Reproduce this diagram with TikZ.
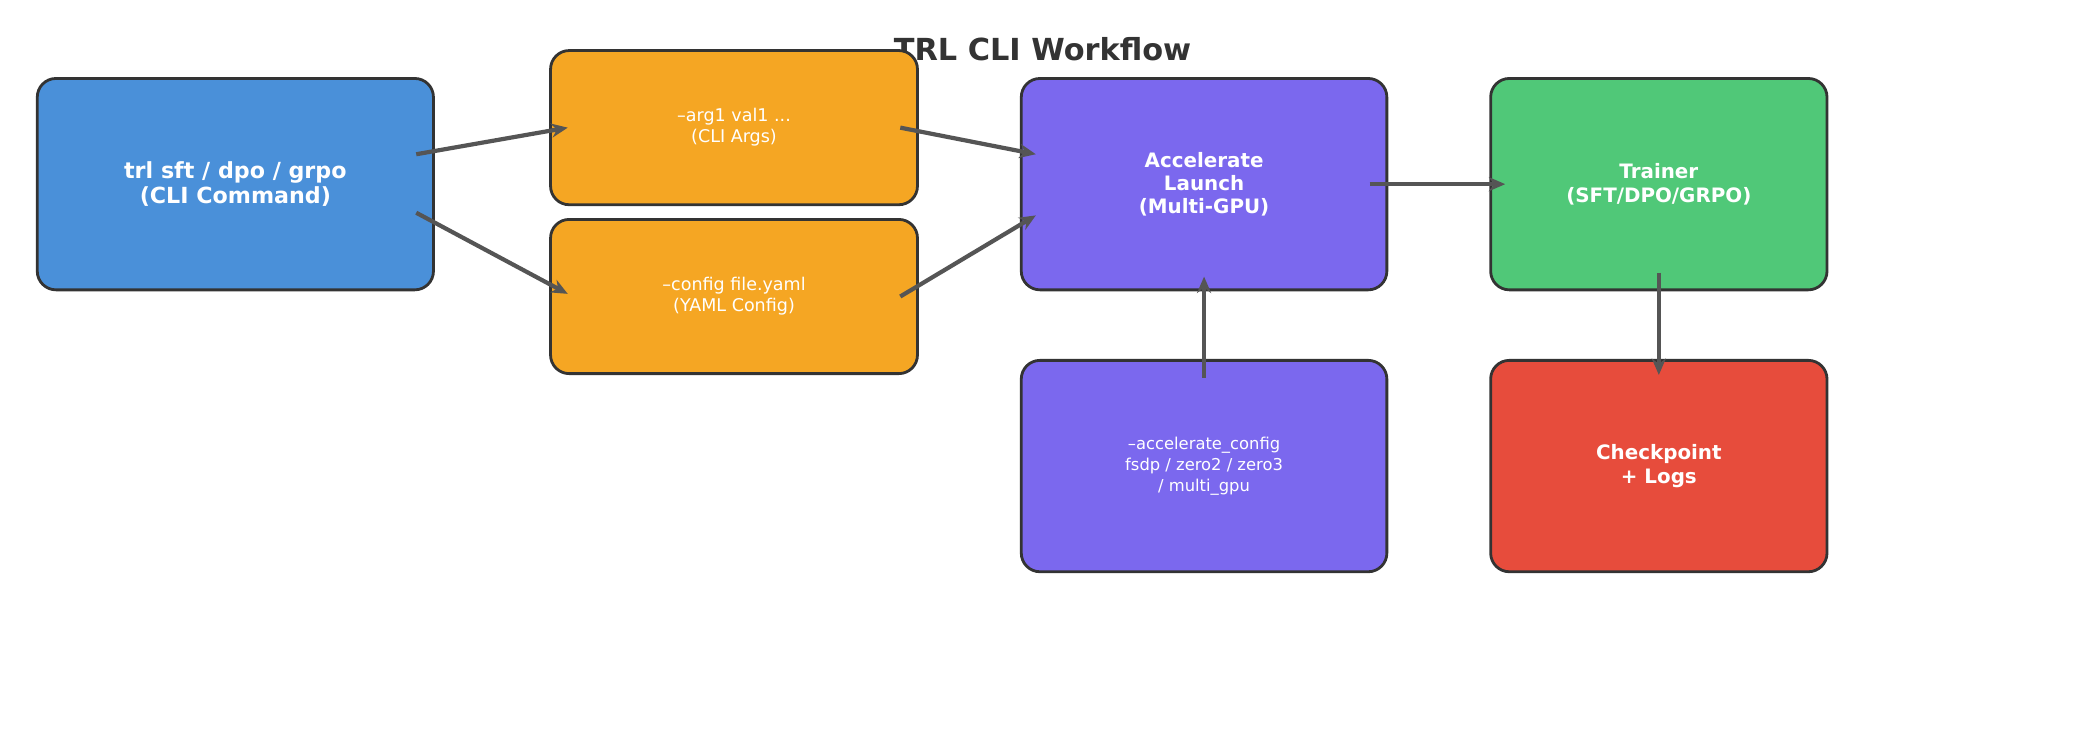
\documentclass[tikz,border=0pt]{standalone}
\usepackage{fontspec}
\setmainfont{DejaVu Sans}
\usetikzlibrary{arrows.meta}
\definecolor{cliblue}{HTML}{4A90D9}
\definecolor{argorange}{HTML}{F5A623}
\definecolor{accpurple}{HTML}{7B68EE}
\definecolor{trgreen}{HTML}{50C878}
\definecolor{ckred}{HTML}{E74C3C}
\definecolor{edgegray}{HTML}{333333}
\definecolor{arrowgray}{HTML}{555555}
\tikzset{
  box/.style={draw=edgegray, line width=1.2pt, rounded corners=8pt, text=white, align=center, inner sep=0pt},
  flow/.style={-{Stealth[length=7pt,width=6pt]}, draw=arrowgray, line width=1.8pt}
}
\begin{document}
\begin{tikzpicture}[x=0.02cm, y=-0.02cm]
\useasboundingbox (0,0) rectangle (1568,552.7);
\node[text=edgegray, font=\fontsize{13}{15}\selectfont\bfseries] (title) at (784,37) {TRL CLI Workflow};

\node[box, fill=cliblue, minimum width=5.96cm, minimum height=3.18cm, font=\fontsize{9.5}{11}\selectfont\bfseries] (cli) at (177,138.5) {trl sft / dpo / grpo\\(CLI Command)};
\node[box, fill=argorange, minimum width=5.52cm, minimum height=2.32cm, font=\fontsize{7.5}{9}\selectfont] (args) at (552,96) {--arg1 val1 ...\\(CLI Args)};
\node[box, fill=argorange, minimum width=5.52cm, minimum height=2.32cm, font=\fontsize{7.5}{9}\selectfont] (yaml) at (552,223) {--config file.yaml\\(YAML Config)};
\node[box, fill=accpurple, minimum width=5.5cm, minimum height=3.18cm, font=\fontsize{8.5}{10}\selectfont\bfseries] (launch) at (905.5,138.5) {Accelerate\\Launch\\(Multi-GPU)};
\node[box, fill=accpurple, minimum width=5.5cm, minimum height=3.18cm, font=\fontsize{7}{9}\selectfont] (accconf) at (905.5,350.5) {--accelerate\_config\\fsdp / zero2 / zero3\\/ multi\_gpu};
\node[box, fill=trgreen, minimum width=5.06cm, minimum height=3.18cm, font=\fontsize{8.5}{10}\selectfont\bfseries] (trainer) at (1247.5,138.5) {Trainer\\(SFT/DPO/GRPO)};
\node[box, fill=ckred, minimum width=5.06cm, minimum height=3.18cm, font=\fontsize{8.5}{10}\selectfont\bfseries] (ckpt) at (1247.5,350.5) {Checkpoint\\+ Logs};

% connectors
\draw[flow] ([xshift=-0.28cm,yshift=0.45cm]cli.east) -- ([xshift=0.28cm]args.west);
\draw[flow] ([xshift=-0.28cm,yshift=-0.43cm]cli.east) -- ([xshift=0.28cm,yshift=0.04cm]yaml.west);
\draw[flow] ([xshift=-0.28cm]args.east) -- ([xshift=0.24cm,yshift=0.45cm]launch.west);
\draw[flow] ([xshift=-0.28cm]yaml.east) -- ([xshift=0.24cm,yshift=-0.47cm]launch.west);
\draw[flow] ([xshift=-0.28cm]launch.east) -- ([xshift=0.24cm]trainer.west);
\draw[flow] ([yshift=-0.28cm]accconf.north) -- ([yshift=0.22cm]launch.south);
\draw[flow] ([yshift=0.28cm]trainer.south) -- ([yshift=-0.24cm]ckpt.north);
\end{tikzpicture}
\end{document}
